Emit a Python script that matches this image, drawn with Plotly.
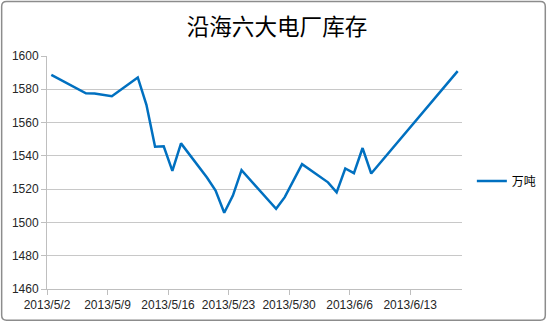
import pandas as pd
import plotly.graph_objects as go

title = "沿海六大电厂库存"
series_name = "万吨"
dates = ["2013-05-02", "2013-05-06", "2013-05-07", "2013-05-09", "2013-05-12",
         "2013-05-13", "2013-05-14", "2013-05-15", "2013-05-16", "2013-05-17",
         "2013-05-20", "2013-05-21", "2013-05-22", "2013-05-23", "2013-05-24",
         "2013-05-28", "2013-05-29", "2013-05-30", "2013-05-31", "2013-06-03",
         "2013-06-04", "2013-06-05", "2013-06-06", "2013-06-07", "2013-06-08",
         "2013-06-18"]
values = [1588.7, 1577.6, 1577.4, 1575.8, 1587.1,
          1570.7, 1545.5, 1545.7, 1531.0, 1547.5,
          1527.0, 1519.1, 1505.8, 1516.1, 1531.4,
          1508.2, 1515.2, 1525.0, 1535.0, 1524.1,
          1518.1, 1532.4, 1529.6, 1544.7, 1529.4,
          1590.9]
tick_labels = ["2013/5/2", "2013/5/9", "2013/5/16", "2013/5/23",
               "2013/5/30", "2013/6/6", "2013/6/13"]
y_ticks = [1460, 1480, 1500, 1520, 1540, 1560, 1580, 1600]

half_day = pd.Timedelta(hours=12)
tick_vals = [d - half_day for d in pd.to_datetime(tick_labels, format="%Y/%m/%d")]
x_start = pd.Timestamp("2013-05-02") - half_day
x_end = pd.Timestamp("2013-06-18") + half_day

fig = go.Figure()
fig.add_trace(go.Scatter(
    x=pd.to_datetime(dates), y=values, mode="lines", name=series_name,
    line=dict(color="#0070C0", width=2.5), showlegend=True,
))

L, R, T, B = 47, 86, 56, 33
W, H = 554, 324
pw, ph = W - L - R, H - T - B


def px(xp):
    return (xp - L) / pw


def py(yp):
    return (H - B - yp) / ph


# rounded border path in paper coordinates
x0, x1, y0, y1, r = 1, W - 1.5, 1, H - 1.5, 5
border = (f"M {px(x0 + r)},{py(y0)} L {px(x1 - r)},{py(y0)} "
          f"Q {px(x1)},{py(y0)} {px(x1)},{py(y0 + r)} "
          f"L {px(x1)},{py(y1 - r)} Q {px(x1)},{py(y1)} {px(x1 - r)},{py(y1)} "
          f"L {px(x0 + r)},{py(y1)} Q {px(x0)},{py(y1)} {px(x0)},{py(y1 - r)} "
          f"L {px(x0)},{py(y0 + r)} Q {px(x0)},{py(y0)} {px(x0 + r)},{py(y0)} Z")

fig.update_layout(
    width=W, height=H,
    margin=dict(l=L, r=R, t=T, b=B),
    paper_bgcolor="white", plot_bgcolor="white",
    font=dict(family="Liberation Sans, Arial, sans-serif", size=12, color="#262626"),
    title=dict(text=title, x=0.5, xref="container", xanchor="center",
               y=1 - 27 / H, yref="container", yanchor="middle",
               font=dict(family="Noto Sans CJK SC", size=22.6, color="#000000")),
    showlegend=True,
    legend=dict(x=px(478), y=py(182), xanchor="left", yanchor="middle",
                font=dict(family="Noto Sans CJK SC", size=12, color="#000000"),
                bgcolor="rgba(0,0,0,0)"),
    xaxis=dict(type="date", range=[x_start, x_end], tickvals=tick_vals, ticktext=tick_labels,
               showgrid=False, showline=True, linecolor="#BFBFBF", linewidth=1,
               ticks="outside", ticklen=5, tickcolor="#BFBFBF", zeroline=False,
               tickfont=dict(size=12)),
    yaxis=dict(range=[1460, 1600], tickvals=y_ticks, showgrid=True, gridcolor="#C8C8C8",
               gridwidth=1, showline=True, linecolor="#BFBFBF", linewidth=1,
               ticks="outside", ticklen=5, tickcolor="#BFBFBF", zeroline=False,
               tickfont=dict(size=12)),
    shapes=[dict(type="path", xref="paper", yref="paper", path=border,
                 line=dict(color="#8C8C8C", width=1.5), fillcolor="rgba(0,0,0,0)",
                 layer="below")],
)

fig.write_html("out.html")
